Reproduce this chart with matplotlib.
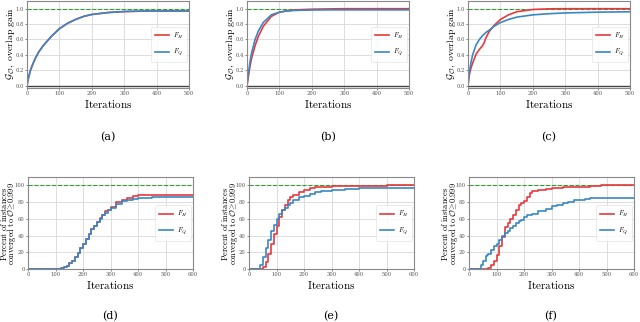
import matplotlib
matplotlib.use("Agg")
import matplotlib.pyplot as plt

plt.rcParams["mathtext.fontset"] = "cm"
plt.rcParams["font.family"] = "DejaVu Serif"

RED = "#e8383d"
BLUE = "#3a87c5"
GREEN = "#2ca02c"

# top row: overlap gain vs iterations (smooth curves)
it_a = [0, 2, 5, 10, 15, 25, 35, 50, 75, 100, 125, 150, 175, 200, 250, 300, 350, 400, 500]
a_q = [0, 0.05, 0.11, 0.19, 0.25, 0.35, 0.43, 0.52, 0.64, 0.74, 0.81, 0.86, 0.9, 0.925, 0.95, 0.963, 0.968, 0.97, 0.97]
a_h = a_q

it_b = [0, 2, 5, 10, 15, 25, 35, 50, 75, 100, 125, 150, 200, 250, 300, 500]
b_h = [0, 0.06, 0.14, 0.27, 0.37, 0.52, 0.64, 0.77, 0.9, 0.955, 0.975, 0.985, 0.993, 0.997, 1.0, 1.0]
b_q = [0, 0.08, 0.18, 0.33, 0.44, 0.6, 0.71, 0.82, 0.92, 0.955, 0.97, 0.978, 0.983, 0.985, 0.985, 0.985]

it_c = [0, 2, 5, 10, 15, 25, 35, 45, 50, 55, 65, 80, 100, 125, 150, 200, 250, 300, 400, 500]
c_h = [0, 0.08, 0.16, 0.24, 0.3, 0.41, 0.47, 0.52, 0.56, 0.62, 0.7, 0.78, 0.86, 0.92, 0.96, 0.99, 0.998, 1.0, 1.0, 1.0]
c_q = [0, 0.1, 0.2, 0.32, 0.41, 0.53, 0.6, 0.65, 0.67, 0.69, 0.72, 0.77, 0.82, 0.86, 0.89, 0.92, 0.935, 0.945, 0.955, 0.96]

# bottom row: percent of instances converged (step curves)
it_d = [0, 110, 120, 130, 140, 150, 160, 170, 180, 190, 200, 210, 220, 230, 240, 250, 260, 270,
        280, 290, 300, 320, 340, 360, 380, 400, 450, 500, 600]
d_h = [0, 0, 1, 2, 4, 7, 10, 14, 19, 25, 30, 36, 42, 48, 52, 56, 61, 65,
       69, 71, 74, 80, 83, 85, 87, 88, 89, 89, 89]
d_q = [0, 0, 1, 2, 4, 7, 10, 14, 19, 25, 30, 36, 42, 48, 52, 56, 60, 64,
       67, 70, 73, 78, 81, 83, 84, 85, 86, 86, 86]

it_e = [0, 30, 40, 50, 60, 70, 80, 90, 100, 110, 120, 130, 140, 150, 160, 180, 200, 220,
        240, 260, 300, 350, 400, 450, 500, 600]
e_h = [0, 0, 0, 2, 8, 18, 30, 42, 52, 62, 70, 76, 82, 86, 89, 92, 95, 97,
       98, 98.5, 99, 99.3, 99.5, 99.7, 100, 100]
e_q = [0, 0, 5, 14, 25, 35, 45, 53, 60, 66, 70, 73, 76, 79, 82, 86, 87, 90,
       92, 93, 94, 96, 96.5, 97, 97, 97]

it_f = [0, 40, 45, 50, 60, 65, 70, 80, 90, 100, 110, 120, 130, 140, 150, 160, 170, 180, 190,
        200, 210, 220, 230, 250, 280, 300, 320, 340, 360, 380, 400, 420, 440, 450, 480, 600]
f_h = [0, 0, 0, 0, 0, 0, 1, 5, 10, 17, 27, 38, 50, 55, 60, 64, 70, 76, 79,
       81, 86, 91, 93, 94, 96, 97, 97, 97.5, 97.5, 98, 98, 98.5, 99, 99, 100, 100]
f_q = [0, 0, 5, 10, 15, 17, 18, 23, 27, 30, 35, 40, 43, 46, 49, 52, 55, 57, 59,
       62, 64, 65, 66, 69, 72, 75, 77, 79, 80, 82, 83, 84, 85, 85, 85, 85]

top = [(it_a, a_h, a_q, "(a)"), (it_b, b_h, b_q, "(b)"), (it_c, c_h, c_q, "(c)")]
bottom = [(it_d, d_h, d_q, "(d)"), (it_e, e_h, e_q, "(e)"), (it_f, f_h, f_q, "(f)")]

top_lefts = [27, 247, 468]
bot_lefts = [28, 249, 469]
W, H = 640, 322

fig = plt.figure(figsize=(6.4, 3.22), dpi=100)


def style(ax):
    ax.grid(True, color="#dddddd", lw=0.7)
    ax.set_axisbelow(True)
    for s in ax.spines.values():
        s.set_color("#888888")
        s.set_linewidth(0.8)
    ax.tick_params(labelsize=3.8, length=1.5, width=0.5, colors="#555555", pad=1)
    leg = ax.legend(loc="center right", fontsize=4.8, handlelength=2.0, frameon=True,
                    borderpad=0.6, labelspacing=0.9, handletextpad=0.6, borderaxespad=0.3)
    leg.get_frame().set_edgecolor("#dddddd")
    leg.get_frame().set_linewidth(0.5)
    ax.set_xlabel(r"$\mathrm{Iterations}$", fontsize=8, labelpad=1)


for (x, h, q, tag), left in zip(top, top_lefts):
    ax = fig.add_axes([left / W, (322 - 88) / H, 162 / W, 87 / H])
    ax.axhline(1.0, color=GREEN, lw=0.8, ls="--", zorder=1)
    ax.axhline(0.0, color="#444444", lw=1.0, zorder=1)
    ax.plot(x, h, color=RED, lw=1.2, label=r"$F_H$")
    ax.plot(x, q, color=BLUE, lw=1.2, label=r"$F_Q$")
    ax.set_xlim(0, 500)
    ax.set_ylim(-0.03, 1.1)
    ax.set_xticks([0, 100, 200, 300, 400, 500])
    ax.set_yticks([0.0, 0.2, 0.4, 0.6, 0.8, 1.0])
    style(ax)
    fig.text((left - 16.5) / W, 1 - 44 / H,
             r"$\mathcal{G}_{\mathcal{O}}$$\mathrm{,\ overlap\ gain}$",
             rotation=90, ha="center", va="center", fontsize=7)
    fig.text((left + 81) / W, 1 - 137 / H, tag, ha="center", va="center", fontsize=8)

for (x, h, q, tag), left in zip(bottom, bot_lefts):
    ax = fig.add_axes([left / W, (322 - 269) / H, 165 / W, 92 / H])
    ax.axhline(100, color=GREEN, lw=0.8, ls="--", zorder=1)
    ax.plot(x, h, color=RED, lw=1.2, drawstyle="steps-post", label=r"$F_H$")
    ax.plot(x, q, color=BLUE, lw=1.2, drawstyle="steps-post", label=r"$F_Q$")
    ax.set_xlim(0, 600)
    ax.set_ylim(0, 110)
    ax.set_xticks([0, 100, 200, 300, 400, 500, 600])
    ax.set_yticks([0, 20, 40, 60, 80, 100])
    style(ax)
    fig.text((left - 23.8) / W, 1 - 224 / H, r"$\mathrm{Percent\ of\ instances}$",
             rotation=90, ha="center", va="center", fontsize=6.0)
    fig.text((left - 16.0) / W, 1 - 224 / H,
             r"$\mathrm{converged\ to\ }\mathcal{O}\!\geq\!0.999$",
             rotation=90, ha="center", va="center", fontsize=6.0)
    fig.text((left + 82) / W, 1 - 316 / H, tag, ha="center", va="center", fontsize=8)

fig.savefig("out.png", dpi=100)
